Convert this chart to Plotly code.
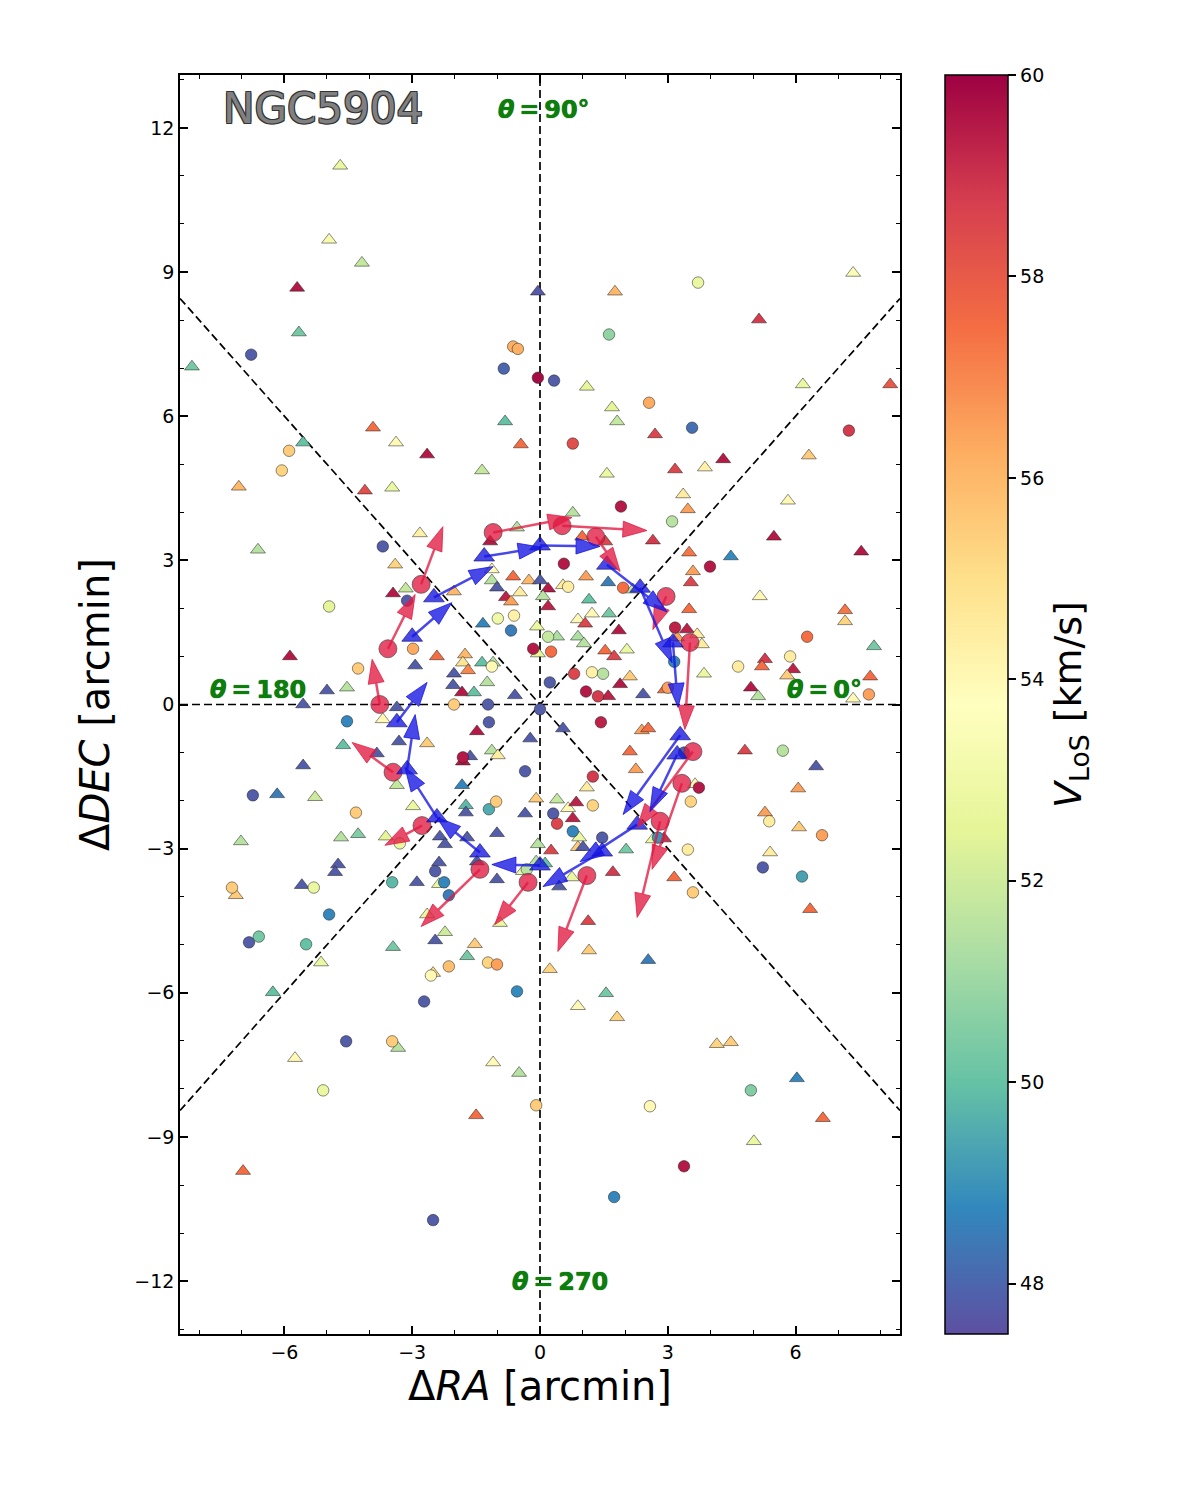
import math
import plotly.graph_objects as go

# ---------------- data (arcmin, km/s) ----------------
circ_x = [-6.78, -0.63, -0.52, -0.85, -0.05, 0.33, 3.71, 1.62, -5.89, -6.06,
          -3.69, -3.12, -0.99, -0.61, -0.68, -0.16, -2.98, -1.13, -1.22, -2.02,
          -4.27, -4.95, 0.19, 0.26, 0.23, 0.00, 2.56, 3.57, 0.77, 7.25,
          1.90, 3.10, 3.99, 0.56, 0.66, 1.95, 3.17, 3.15, 3.00, 0.80,
          1.22, 1.48, 1.08, 1.36, 6.27, 5.87, 4.65, 7.72, -4.53, -1.20,
          -1.81, -0.35, -6.74, -4.32, -1.20, -1.03, -3.29, -2.46, -3.47, -2.25,
          -2.14, -0.31, -7.23, -5.31, -4.95, -6.83, -6.60, -5.49, -1.22, -1.01,
          -2.14, -2.56, -0.54, -2.72, 0.31, 0.40, 1.43, 1.24, 3.38, 5.70,
          3.73, 3.54, 1.24, 5.38, 6.62, 0.77, 1.46, 3.47, 2.77, 5.23,
          6.15, 3.59, -4.55, -3.47, -5.09, -0.09, -2.51, 4.95, 2.58, 3.38, 1.74]
circ_y = [7.28, 7.45, 7.40, 6.99, 6.80, 6.74, 8.78, 7.70, 5.28, 4.87,
          3.29, 2.16, 1.79, 1.85, 1.54, 1.16, 1.16, 0.79, 0.00, 0.00,
          0.75, 2.04, 1.41, 1.10, 0.46, -0.10, 6.28, 5.76, 5.43, 5.70,
          4.12, 3.81, 2.87, 2.93, 2.45, 2.43, 1.60, 0.89, 0.35, 0.64,
          0.67, 0.64, 0.27, 0.17, 1.41, 1.00, 0.79, 0.21, -0.35, -0.37,
          -1.10, -1.39, -1.89, -2.25, -2.18, -2.02, -2.89, -3.47, -3.70, -3.70,
          -3.97, -3.43, -3.81, -3.81, -4.37, -4.95, -4.83, -4.99, -5.37, -5.41,
          -5.45, -5.64, -5.97, -6.18, -2.27, -2.48, -0.37, -1.50, -1.00, -0.96,
          -1.73, -2.02, -2.10, -2.43, -2.72, -2.64, -2.77, -3.02, -2.77, -3.39,
          -3.58, -3.91, -7.01, -7.01, -8.03, -8.34, -10.73, -8.03, -8.36, -9.61, -10.25]
circ_v = [47.8, 56.2, 56.2, 48.0, 59.8, 47.8, 52.8, 50.8, 55.5, 55.3,
          47.8, 47.8, 53.0, 54.3, 48.5, 59.5, 56.3, 54.0, 47.8, 55.5,
          55.5, 52.5, 51.8, 57.5, 47.8, 47.8, 56.3, 48.2, 58.3, 58.8,
          59.5, 51.5, 59.5, 59.5, 54.5, 57.5, 59.3, 48.7, 56.5, 58.5,
          54.3, 51.5, 59.5, 58.8, 57.5, 54.5, 54.5, 56.5, 48.7, 47.8,
          59.5, 47.8, 47.8, 55.5, 49.5, 55.5, 52.8, 47.8, 49.8, 48.7,
          48.5, 51.5, 55.5, 52.8, 48.7, 47.8, 50.3, 50.0, 55.3, 56.5,
          55.8, 54.0, 48.8, 47.8, 47.8, 58.5, 59.3, 58.8, 47.8, 51.5,
          59.5, 55.3, 55.3, 54.5, 56.5, 48.7, 47.8, 54.5, 49.0, 47.8,
          49.3, 55.5, 47.8, 55.5, 52.8, 55.5, 47.8, 50.5, 54.0, 59.5, 48.7]

tri_x = [-4.69, -4.95, -4.18, -5.70, -5.66, -8.17, -0.05, 1.76, 5.14, 7.35,
         1.10, 6.17, 8.22, -0.82, -0.45, -3.92, -3.38, -5.56, -7.07, -4.11,
         -3.47, -2.65, -1.36, -6.62, -2.82, -3.40, -3.45, -3.15, -2.02, -1.17,
         -0.54, -1.13, -1.13, -1.01, -0.63, -0.26, -0.80, -0.68, -0.47, -1.34,
         -0.07, -0.05, -2.93, -2.42, -1.76, -1.81, -1.69, -2.02, -2.04, -1.83,
         -1.55, -1.24, -1.36, -1.10, -0.59, -4.53, -5.00, -5.87, -5.56, -3.36,
         0.00, 0.19, 0.07, 0.19, 0.40, 1.69, 1.81, 2.70, 4.30, 3.17,
         3.87, 1.57, 6.31, 3.36, 3.47, 5.82, 5.49, 7.54, 0.77, 2.65,
         3.50, 4.48, 3.59, 3.54, 0.99, 1.53, 1.08, 0.54, 1.60, 2.18,
         1.15, 0.89, 1.22, 1.06, 1.62, 1.85, 0.89, 1.03, 1.53, 1.74,
         2.04, 2.11, 1.88, 1.60, 2.42, 3.45, 3.69, 3.80, 3.22, 2.93,
         3.85, 3.50, 5.16, 5.28, 5.21, 5.94, 5.80, 4.95, 5.12, 7.16,
         7.16, 7.84, 7.75, 7.35, -4.62, -3.69, -3.31, -2.65, -3.83, -1.48,
         -0.23, -1.81, -1.64, -1.13, -0.99, -3.36, -5.56, -6.17, -5.28, -2.98,
         -1.83, -1.74, -1.74, -0.09, -0.35, -7.02, -4.67, -4.27, -3.62, -2.35,
         -2.23, -1.71, -1.01, -0.05, -4.74, -4.81, -2.37, -1.48, -2.89, -2.37,
         -1.01, -0.40, -7.14, -5.59, -2.65, -0.94, -3.45, -2.46, -2.23, -1.53,
         -1.71, -2.51, -5.14, -6.27, 0.26, -0.09, 0.12, 0.54, 2.39, 2.54,
         2.11, 2.25, 1.10, 4.81, 6.48, 6.06, 3.64, 0.40, 0.66, 0.85,
         0.77, 5.28, 6.08, 5.40, 0.92, 0.89, 1.01, 2.02, 2.65, 2.91,
         0.75, 0.45, 1.71, 3.15, 6.34, 1.13, 1.15, 2.54, 0.23, 1.55,
         0.89, 1.81, -3.33, -5.75, -1.10, -0.49, -1.50, -6.97, 4.15, 4.48,
         6.03, 6.64, 5.02]
tri_y = [11.21, 9.67, 9.19, 8.67, 7.74, 7.03, 8.59, 8.59, 8.01, 8.98,
         6.61, 6.66, 6.66, 5.89, 5.41, 5.76, 5.45, 5.45, 4.53, 4.45,
         4.51, 5.20, 4.87, 3.22, 3.56, 2.91, 2.31, 2.41, 2.35, 3.39,
         3.68, 2.81, 2.58, 2.43, 2.66, 2.58, 2.23, 2.14, 2.33, 1.68,
         1.62, 1.06, 0.81, 1.00, 1.04, 0.87, 0.71, 0.64, 0.40, 0.25,
         0.25, 0.46, 0.87, 0.87, 0.19, 0.35, 0.29, 1.00, 0.00, -0.06,
         2.58, 2.41, 2.25, 2.04, 1.41, 6.18, 5.89, 5.62, 5.10, 4.89,
         4.93, 4.80, 5.18, 4.37, 4.06, 4.24, 3.49, 3.18, 3.99, 3.41,
         3.16, 3.08, 2.77, 2.54, 3.49, 3.39, 2.66, 2.48, 2.54, 2.39,
         2.18, 1.77, 1.89, 1.68, 1.89, 1.54, 1.41, 1.27, 1.12, 1.00,
         1.14, 0.58, 0.42, 0.17, 0.21, 1.56, 1.46, 1.25, 1.39, 0.31,
         0.64, 1.98, 2.25, 0.94, 0.79, 0.73, 0.60, 0.35, 0.17, 1.96,
         1.73, 1.21, 0.58, 0.12, -0.85, -0.31, -0.77, -0.81, -1.02, -0.56,
         -0.71, -1.19, -1.08, -0.96, -1.06, -1.68, -1.27, -1.87, -1.93, -2.12,
         -1.68, -2.10, -2.25, -1.96, -2.27, -2.85, -2.77, -2.70, -2.75, -2.75,
         -2.91, -2.77, -2.68, -2.91, -3.33, -3.49, -3.29, -3.27, -3.70, -3.74,
         -3.64, -3.47, -3.97, -3.76, -4.37, -4.55, -5.05, -4.91, -4.74, -4.99,
         -5.24, -5.59, -5.37, -5.99, -3.04, -3.27, -3.31, -0.50, -0.54, -0.50,
         -0.98, -1.35, -1.73, -0.96, -1.29, -1.75, -1.66, -1.98, -2.16, -2.04,
         -2.37, -2.25, -2.56, -3.08, -2.77, -2.97, -2.97, -3.02, -2.81, -2.79,
         -3.60, -3.79, -3.49, -3.60, -4.26, -4.51, -5.12, -5.32, -5.51, -6.01,
         -6.28, -6.51, -7.15, -7.36, -7.45, -7.67, -8.55, -9.71, -7.07, -7.03,
         -7.78, -8.61, -9.09]
tri_v = [52.8, 53.3, 51.8, 59.5, 50.3, 50.3, 47.7, 56.0, 58.8, 53.5,
         52.6, 52.8, 58.0, 50.0, 57.5, 57.5, 54.0, 50.0, 56.0, 58.3,
         52.8, 59.5, 51.8, 51.5, 54.3, 55.3, 59.5, 51.8, 56.0, 59.5,
         51.5, 54.0, 51.5, 47.8, 57.5, 56.0, 59.3, 56.5, 54.5, 48.7,
         52.8, 52.5, 47.8, 57.5, 56.0, 54.8, 57.0, 47.8, 47.8, 59.5,
         50.0, 51.5, 50.0, 51.5, 47.8, 51.5, 47.8, 59.5, 47.8, 47.8,
         47.8, 59.5, 51.5, 59.3, 51.3, 52.5, 51.8, 58.5, 59.5, 58.5,
         54.3, 52.8, 55.5, 54.5, 56.5, 54.0, 59.5, 59.5, 51.5, 58.8,
         57.3, 48.8, 56.5, 58.5, 57.5, 58.5, 56.5, 54.5, 48.5, 51.8,
         50.0, 54.0, 54.0, 58.5, 50.3, 59.5, 51.3, 51.5, 57.5, 58.5,
         52.8, 55.5, 59.5, 59.3, 47.8, 59.3, 54.5, 54.5, 56.5, 57.5,
         52.8, 57.5, 54.0, 58.8, 57.5, 59.3, 55.5, 59.5, 51.5, 57.3,
         55.3, 50.3, 57.5, 54.0, 50.0, 54.0, 47.8, 55.5, 47.8, 59.5,
         47.8, 59.5, 47.8, 51.5, 54.5, 51.8, 47.8, 48.5, 52.0, 52.8,
         48.7, 49.8, 47.8, 55.5, 47.8, 51.5, 51.5, 50.5, 52.5, 47.8,
         47.8, 47.8, 47.8, 51.5, 47.8, 47.8, 47.8, 47.8, 47.8, 52.8,
         47.8, 53.0, 55.5, 47.8, 52.8, 52.8, 50.3, 47.8, 52.0, 55.5,
         50.3, 55.0, 52.8, 50.0, 58.5, 51.5, 50.0, 47.8, 56.5, 57.5,
         57.5, 56.5, 54.5, 58.5, 47.8, 56.5, 54.0, 51.8, 54.0, 59.3,
         59.3, 56.5, 55.5, 54.5, 52.8, 55.5, 47.8, 50.3, 52.8, 59.0,
         52.8, 47.8, 58.8, 57.5, 57.5, 58.5, 55.5, 48.5, 55.3, 50.3,
         54.0, 55.3, 51.5, 54.0, 54.0, 51.5, 57.5, 57.5, 55.3, 55.5,
         48.7, 57.5, 52.8]

# ring of binned positions (red circles) and their vectors' tips
red_x = [1.31, 0.52, -1.10, -2.79, -3.57, -3.76, -3.45, -2.77, -1.41, -0.28, 1.10, 2.82, 3.33, 3.59, 3.52, 2.96]
red_y = [3.49, 3.72, 3.58, 2.50, 1.16, 0.00, -1.41, -2.52, -3.43, -3.70, -3.56, -2.43, -1.64, -0.98, 1.29, 2.25]
red_tip_x = [1.88, 2.51, 0.75, -2.28, -2.93, -3.94, -4.41, -3.64, -2.79, -1.06, 0.42, 2.28, 2.63, 2.28, 3.40, 2.65]
red_tip_y = [2.77, 3.62, 3.89, 3.70, 2.29, 0.94, -0.79, -2.93, -4.62, -4.58, -5.14, -4.43, -3.43, -2.56, -0.52, 1.56]

# ring of binned positions (blue triangles) and their vectors' tips
blue_x = [-1.31, 0.00, 1.57, 2.35, 3.12, 3.29, 3.22, 2.28, 1.46, 0.00, -1.41, -2.42, -3.12, -3.36, -3.00, -2.49]
blue_y = [3.08, 3.31, 2.91, 2.43, 1.29, -0.64, -1.04, -2.50, -3.06, -3.35, -3.08, -2.35, -1.35, -0.37, 1.41, 2.23]
blue_tip_x = [0.05, 1.41, 2.98, 3.10, 3.24, 1.95, 2.58, 0.94, 0.07, -1.13, -2.42, -3.17, -2.93, -2.65, -2.07, -1.10]
blue_tip_y = [3.27, 3.29, 1.93, 0.87, -0.06, -2.29, -2.23, -3.27, -3.79, -3.33, -2.35, -1.31, -0.21, 0.46, 2.12, 2.87]

x_ticks = [-6, -3, 0, 3, 6]
y_ticks = [-12, -9, -6, -3, 0, 3, 6, 9, 12]
cbar_ticks = [48, 50, 52, 54, 56, 58, 60]
v_min, v_max = 47.5, 60.0

# ---------------- layout constants ----------------
XMAX, YMAX = 8.45, 13.1
W, H = 1200, 1500
ML, MR, MT, MB = 180, 300, 75, 166
PXX = (W - ML - MR) / (2 * XMAX)
PXY = (H - MT - MB) / (2 * YMAX)
FONT = "DejaVu Sans"

spectral = ['rgb(94,79,162)', 'rgb(50,136,189)', 'rgb(102,194,165)', 'rgb(171,221,164)',
            'rgb(230,245,152)', 'rgb(255,255,191)', 'rgb(254,224,139)', 'rgb(253,174,97)',
            'rgb(244,109,67)', 'rgb(213,62,79)', 'rgb(158,1,66)']
cscale = [[i / 10, c] for i, c in enumerate(spectral)]


def minus(v):
    return str(v).replace('-', '\u2212')


def arrows(x0s, y0s, x1s, y1s, head_len=24, head_w=16):
    sx, sy, hx, hy = [], [], [], []
    for x0, y0, x1, y1 in zip(x0s, y0s, x1s, y1s):
        dxp, dyp = (x1 - x0) * PXX, (y1 - y0) * PXY
        L = math.hypot(dxp, dyp)
        ux, uy = dxp / L, dyp / L
        bx, by = x1 - head_len * ux / PXX, y1 - head_len * uy / PXY
        nx, ny = -uy, ux
        c1 = (bx + head_w / 2 * nx / PXX, by + head_w / 2 * ny / PXY)
        c2 = (bx - head_w / 2 * nx / PXX, by - head_w / 2 * ny / PXY)
        sx += [x0, bx, None]
        sy += [y0, by, None]
        hx += [x1, c1[0], c2[0], x1, None]
        hy += [y1, c1[1], c2[1], y1, None]
    return sx, sy, hx, hy


fig = go.Figure()

edge = dict(color='rgba(30,30,30,0.85)', width=0.6)
fig.add_trace(go.Scatter(x=tri_x, y=tri_y, mode='markers', showlegend=False,
                         marker=dict(symbol='triangle-up', size=13, color=tri_v,
                                     coloraxis='coloraxis', line=edge)))
fig.add_trace(go.Scatter(x=circ_x, y=circ_y, mode='markers', showlegend=False,
                         marker=dict(symbol='circle', size=11.5, color=circ_v,
                                     coloraxis='coloraxis', line=edge)))

RED = 'rgba(225,25,65,0.78)'
BLUE = 'rgba(20,20,225,0.78)'

fig.add_trace(go.Scatter(x=red_x, y=red_y, mode='markers', showlegend=False,
                         marker=dict(symbol='circle', size=18, color=RED,
                                     line=dict(color='rgba(60,60,60,0.8)', width=0.8))))
fig.add_trace(go.Scatter(x=blue_x, y=blue_y, mode='markers', showlegend=False,
                         marker=dict(symbol='triangle-up', size=18, color=BLUE,
                                     line=dict(color='rgba(20,20,120,0.8)', width=0.8))))

for (x0, y0, x1, y1, col) in [(red_x, red_y, red_tip_x, red_tip_y, RED),
                              (blue_x, blue_y, blue_tip_x, blue_tip_y, BLUE)]:
    sx, sy, hx, hy = arrows(x0, y0, x1, y1)
    fig.add_trace(go.Scatter(x=sx, y=sy, mode='lines', showlegend=False,
                             line=dict(color=col, width=2.5)))
    fig.add_trace(go.Scatter(x=hx, y=hy, mode='lines', fill='toself', fillcolor=col,
                             showlegend=False, line=dict(color=col, width=1)))

# dashed guide lines
dash = dict(color='black', width=1.7, dash='8px,4px')
for (xa, ya, xb, yb) in [(0, -YMAX, 0, YMAX), (-XMAX, 0, XMAX, 0),
                         (-XMAX, -XMAX, XMAX, XMAX), (-XMAX, XMAX, XMAX, -XMAX)]:
    fig.add_shape(type='line', x0=xa, y0=ya, x1=xb, y1=yb, xref='x', yref='y',
                  line=dash, layer='below')

green_font = dict(family=FONT, size=24, color='#0a800a',
                  shadow='0px 0px 1px #003300', weight='bold')
labels = [(0.1, 12.37, '<i>θ</i>\u2009=\u200990°'),
          (-6.62, 0.31, '<i>θ</i>\u2009=\u2009180'),
          (6.67, 0.31, '<i>θ</i>\u2009=\u20090°'),
          (0.47, -12.02, '<i>θ</i>\u2009=\u2009270')]
for lx, ly, txt in labels:
    fig.add_annotation(x=lx, y=ly, xref='x', yref='y', text=txt, showarrow=False,
                       font=green_font)

fig.add_annotation(x=-5.09, y=12.40, xref='x', yref='y', text='NGC5904', showarrow=False,
                   font=dict(family=FONT, size=42, color='#808080',
                             shadow='-1px -1px 0 #333, 1px -1px 0 #333, '
                                    '-1px 1px 0 #333, 1px 1px 0 #333'))

axis_common = dict(showgrid=False, zeroline=False, showline=True, linecolor='black',
                   linewidth=1.5, mirror='allticks', ticks='inside', ticklen=8,
                   tickwidth=1.5, tickcolor='black',
                   tickfont=dict(family=FONT, size=19, color='black'),
                   minor=dict(ticks='inside', ticklen=4, tickwidth=1, tickcolor='black', dtick=1))

fig.update_xaxes(range=[-XMAX, XMAX], tickvals=x_ticks, ticktext=[minus(t) for t in x_ticks],
                 title=dict(text='Δ<i>RA</i> [arcmin]', font=dict(family=FONT, size=40, color='black'),
                            standoff=8),
                 **axis_common)
fig.update_yaxes(range=[-YMAX, YMAX], tickvals=y_ticks, ticktext=[minus(t) for t in y_ticks],
                 title=dict(text='Δ<i>DEC</i> [arcmin]', font=dict(family=FONT, size=40, color='black'),
                            standoff=12),
                 **axis_common)

fig.update_layout(
    width=W, height=H,
    margin=dict(l=ML, r=MR, t=MT, b=MB),
    paper_bgcolor='white', plot_bgcolor='white',
    coloraxis=dict(colorscale=cscale, cmin=v_min, cmax=v_max,
                   colorbar=dict(x=1.0625, xanchor='left', xref='paper', y=0.5, yanchor='middle',
                                 len=1, lenmode='fraction', thickness=63, thicknessmode='pixels',
                                 xpad=0, ypad=0, outlinewidth=1.5, outlinecolor='black',
                                 tickvals=cbar_ticks, ticks='outside', ticklen=8, tickwidth=1.5,
                                 tickcolor='black',
                                 tickfont=dict(family=FONT, size=19, color='black'),
                                 title=dict(text='<i>V</i><sub>LoS</sub> [km/s]', side='right',
                                            font=dict(family=FONT, size=38, color='black')))),
)

fig.write_html('out.html')
